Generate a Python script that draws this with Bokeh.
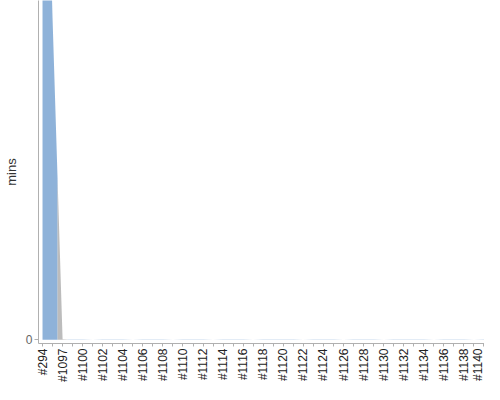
import numpy as np
from bokeh.plotting import figure
from bokeh.models import Range1d, FixedTicker
from bokeh.embed import file_html
from bokeh.resources import INLINE

# Builds (categories), durations in minutes and result of each build
builds = ["#294", "#1096", "#1097", "#1098", "#1100", "#1101", "#1102", "#1103",
          "#1104", "#1105", "#1106", "#1107", "#1108", "#1109", "#1110", "#1111",
          "#1112", "#1113", "#1114", "#1115", "#1116", "#1117", "#1118", "#1119",
          "#1120", "#1121", "#1122", "#1123", "#1124", "#1125", "#1126", "#1127",
          "#1128", "#1129", "#1130", "#1131", "#1132", "#1133", "#1134", "#1135",
          "#1136", "#1137", "#1138", "#1139", "#1140"]
durations = [512.0, 237.0, 0.3, 0.12, 0.15, 0.1, 0.14, 0.11,
             0.13, 0.1, 0.12, 0.15, 0.11, 0.1, 0.13, 0.12,
             0.14, 0.1, 0.11, 0.13, 0.12, 0.1, 0.15, 0.11,
             0.12, 0.13, 0.1, 0.11, 0.14, 0.12, 0.1, 0.13,
             0.11, 0.12, 0.1, 0.14, 0.13, 0.11, 0.12, 0.1,
             0.13, 0.11, 0.12, 0.1, 0.12]
results = ["SUCCESS", "SUCCESS", "ABORTED"] + ["SUCCESS"] * 42
result_colors = {"SUCCESS": "#729FCF", "ABORTED": "#ABABAB", "FAILURE": "#EF2929"}

y_top = 250  # visible upper bound of the value axis (mins)

n = len(builds)

# One polygon per run of equally coloured builds; colour changes half way
# between two builds, the top edge joins the build values.
xs, ys, cols = [], [], []
i = 0
while i < n:
    j = i
    while j + 1 < n and results[j + 1] == results[i]:
        j += 1
    px, py = [], []
    if i > 0:
        px.append(i - 0.5)
        py.append((durations[i - 1] + durations[i]) / 2)
    for k in range(i, j + 1):
        px.append(k)
        py.append(durations[k])
    if j < n - 1:
        px.append(j + 0.5)
        py.append((durations[j] + durations[j + 1]) / 2)
    px += [px[-1], px[0]]
    py += [0, 0]
    xs.append(px)
    ys.append(py)
    cols.append(result_colors[results[i]])
    i = j + 1

p = figure(width=484, height=384, output_backend="svg", toolbar_location=None,
           x_range=Range1d(-0.4, n - 1 + 0.05), y_range=Range1d(-y_top * 0.011, y_top),
           min_border_left=0, min_border_right=0, min_border_top=0, min_border_bottom=0)
p.outline_line_color = None
p.grid.visible = False
p.background_fill_color = "white"

p.patches(xs, ys, fill_color=cols, fill_alpha=0.8, line_color=None)

# x axis
xa = p.xaxis[0]
xa.ticker = FixedTicker(ticks=list(range(n)))
xa.major_label_overrides = {k: (builds[k] if k % 2 == 0 else "") for k in range(n)}
xa.major_label_orientation = np.pi / 2
xa.major_label_text_font = "Liberation Sans"
xa.major_label_text_font_size = "12px"
xa.major_label_text_color = "#222222"
xa.major_label_standoff = 2
xa.axis_line_color = "#b0b0b0"
xa.major_tick_line_color = "#b0b0b0"
xa.major_tick_out = 3
xa.major_tick_in = 0
xa.minor_tick_line_color = None

# y axis
ya = p.yaxis[0]
ya.ticker = FixedTicker(ticks=[0])
ya.axis_label = "mins"
ya.axis_label_text_font = "Liberation Sans"
ya.axis_label_text_font_size = "13px"
ya.axis_label_text_font_style = "normal"
ya.axis_label_text_color = "#333333"
ya.axis_label_standoff = 4
ya.major_label_text_font = "Liberation Sans"
ya.major_label_text_font_size = "12px"
ya.major_label_text_color = "#666666"
ya.major_label_standoff = 2
ya.axis_line_color = "#b0b0b0"
ya.major_tick_line_color = "#b0b0b0"
ya.major_tick_out = 4
ya.major_tick_in = 0
ya.minor_tick_line_color = None

open("out.html", "w").write(file_html(p, INLINE))
